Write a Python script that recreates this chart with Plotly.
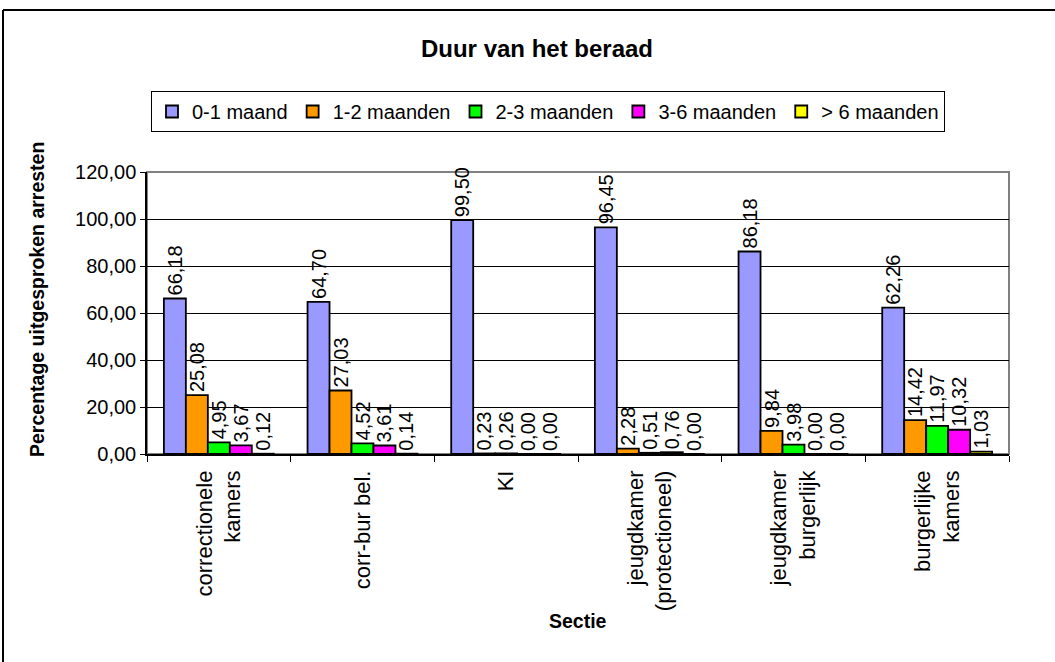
import plotly.graph_objects as go

categories = [
    "correctionele<br>kamers",
    "corr-bur bel.",
    "KI",
    "jeugdkamer<br>(protectioneel)",
    "jeugdkamer<br>burgerlijk",
    "burgerlijke<br>kamers",
]
series_names = ["0-1 maand", "1-2 maanden", "2-3 maanden", "3-6 maanden", "> 6 maanden"]
m0_1 = [66.18, 64.70, 99.50, 96.45, 86.18, 62.26]
m1_2 = [25.08, 27.03, 0.23, 2.28, 9.84, 14.42]
m2_3 = [4.95, 4.52, 0.26, 0.51, 3.98, 11.97]
m3_6 = [3.67, 3.61, 0.00, 0.76, 0.00, 10.32]
m6p = [0.12, 0.14, 0.00, 0.00, 0.00, 1.03]
series_values = [m0_1, m1_2, m2_3, m3_6, m6p]
colors = ["#9999FF", "#FF9900", "#00FF00", "#FF00FF", "#FFFF00"]
y_ticks = [0, 20, 40, 60, 80, 100, 120]

W, H = 1055, 662
L, R, T, B = 147, 1009, 172, 454  # plot area in px

FONT = "Arial, Liberation Sans, Helvetica, sans-serif"

fig = go.Figure()
for name, vals, col in zip(series_names, series_values, colors):
    fig.add_trace(go.Bar(
        x=categories, y=vals, name=name,
        marker=dict(color=col, line=dict(color="black", width=1.8)),
        texttemplate="%{y:.2f}", textposition="outside", textangle=-90,
        textfont=dict(family=FONT, size=20, color="black"),
        constraintext="none", cliponaxis=False,
    ))

def px_x(x):
    return (x - L) / (R - L)

def px_y(y):
    return (B - y) / (B - T)

shapes = [
    # plot area frame (gray)
    dict(type="rect", xref="paper", yref="paper", x0=0, x1=1, y0=0, y1=1,
         line=dict(color="#808080", width=2), layer="below"),
    # outer chart border
    dict(type="line", xref="paper", yref="paper", x0=px_x(3), x1=px_x(3),
         y0=px_y(10), y1=px_y(662), line=dict(color="black", width=2)),
    dict(type="line", xref="paper", yref="paper", x0=px_x(3), x1=px_x(1055),
         y0=px_y(10), y1=px_y(10), line=dict(color="black", width=2)),
]

annotations = [
    dict(text="<b>Percentage uitgesproken arresten</b>", xref="paper", yref="paper",
         x=px_x(37), y=px_y(299), textangle=-90, showarrow=False,
         font=dict(family=FONT, size=19.5, color="black"), xanchor="center", yanchor="middle"),
    dict(text="<b>Sectie</b>", xref="paper", yref="paper",
         x=0.5, y=px_y(621), showarrow=False,
         font=dict(family=FONT, size=19.5, color="black"), xanchor="center", yanchor="middle"),
]

fig.update_layout(
    width=W, height=H,
    margin=dict(l=L, r=W - R, t=T, b=H - B, autoexpand=False),
    paper_bgcolor="white", plot_bgcolor="white",
    separators=",.",
    font=dict(family=FONT, size=19, color="black"),
    title=dict(text="<b>Duur van het beraad</b>", x=537 / W, xref="container",
               xanchor="center", y=1 - 49 / H, yref="container", yanchor="middle",
               font=dict(family=FONT, size=24, color="black")),
    barmode="group", bargap=0.235, bargroupgap=0,
    showlegend=True,
    legend=dict(orientation="h", x=px_x(548), y=px_y(91), xanchor="center", yanchor="top",
                bordercolor="black", borderwidth=1, bgcolor="white",
                font=dict(family=FONT, size=20, color="black"),
                itemwidth=30, tracegroupgap=0, traceorder="normal"),
    shapes=shapes,
    annotations=annotations,
)

fig.update_xaxes(
    type="category", tickangle=-90, tickson="boundaries",
    ticks="outside", ticklen=6, tickcolor="black", tickwidth=1,
    ticklabelstandoff=6,
    showline=True, linecolor="black", linewidth=1.5,
    showgrid=False, automargin=False,
    tickfont=dict(family=FONT, size=22, color="black"),
)
fig.update_yaxes(
    range=[0, 120], tickvals=y_ticks, tickformat=".2f",
    ticks="outside", ticklen=5, tickcolor="black", tickwidth=1,
    showline=True, linecolor="black", linewidth=1.5,
    showgrid=True, gridcolor="black", gridwidth=1,
    zeroline=False, automargin=False,
    tickfont=dict(family=FONT, size=20, color="black"),
)

fig.write_html("out.html", config={"displayModeBar": False},
               post_script="document.body.style.margin='0';")
